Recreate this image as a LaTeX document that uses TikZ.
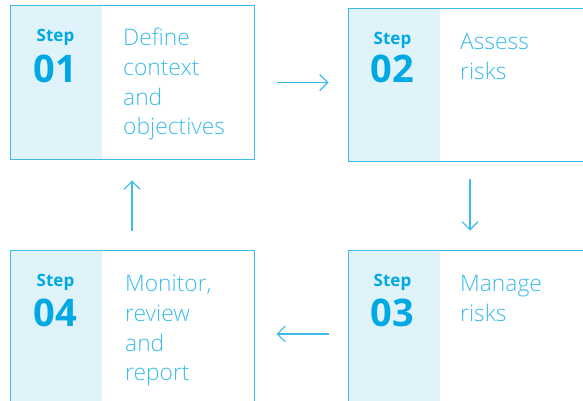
\documentclass[tikz,border=0pt]{standalone}
\usepackage{fontspec}
\setmainfont{Open Sans}
\newfontfamily\thinfont{Open Sans Light}
\usetikzlibrary{positioning,arrows.meta}

\definecolor{stepline}{HTML}{3DBCEA}
\definecolor{steptint}{HTML}{E0F3FA}
\definecolor{stepblue}{HTML}{00A8E4}
\definecolor{steptext}{HTML}{3BBBEA}

\tikzset{
  stepbox/.style={draw=stepline, line width=1pt, minimum width=244pt,
    minimum height=153pt, inner sep=0pt,
    path picture={\fill[steptint] (path picture bounding box.north west)
      rectangle ++(92pt,-153pt);}},
  stepword/.style={text=stepblue, font=\bfseries\fontsize{17}{17}\selectfont,
    anchor=base, inner sep=0pt},
  stepnum/.style={text=stepblue, font=\bfseries\fontsize{38}{38}\selectfont,
    anchor=base, inner sep=0pt},
  stepdesc/.style={text=steptext, font=\thinfont\fontsize{22.8}{29.8}\selectfont,
    align=left, anchor=base west, inner sep=0pt},
  flow/.style={-{Straight Barb[length=8pt, width=16pt]}, draw=stepline,
    line width=1.1pt}
}

\begin{document}
\begin{tikzpicture}[x=1pt, y=-1pt]

  \useasboundingbox (0,0) rectangle (583,401);
  \clip (0,0) rectangle (583,401);

  % Define the four step boxes
  \node[stepbox] (Define) at (132,82.5) {};
  \node[stepbox, right=93pt of Define, yshift=-2.5pt] (Assess) {};
  \node[stepbox, below=88pt of Assess] (Manage) {};
  \node[stepbox, left=93pt of Manage] (Monitor) {};

  % Step numbers and descriptions (base west sits on the last line)
  \node[stepword] at ([shift={(46,36)}]Define.north west) {Step};
  \node[stepnum] at ([shift={(46,77)}]Define.north west) {01};
  \node[stepdesc] at ([shift={(113.5,129.4)}]Define.north west)
    {Define\\context\\and\\objectives};

  \node[stepword] at ([shift={(45,37)}]Assess.north west) {Step};
  \node[stepnum] at ([shift={(45,75)}]Assess.north west) {02};
  \node[stepdesc] at ([shift={(112.5,71.8)}]Assess.north west) {Assess\\risks};

  \node[stepword] at ([shift={(45,36)}]Manage.north west) {Step};
  \node[stepnum] at ([shift={(45,76)}]Manage.north west) {03};
  \node[stepdesc] at ([shift={(112.5,71.3)}]Manage.north west) {Manage\\risks};

  \node[stepword] at ([shift={(46,36)}]Monitor.north west) {Step};
  \node[stepnum] at ([shift={(46,76)}]Monitor.north west) {04};
  \node[stepdesc] at ([shift={(115.5,130.9)}]Monitor.north west)
    {Monitor,\\review\\and\\report};

  % Connect the steps
  \draw[flow, shorten <=22pt, shorten >=19pt]
    (Define.east) -- (Assess.west |- Define.east);
  \draw[flow, shorten <=17pt, shorten >=19.5pt] (Assess.south) -- (Manage.north);
  \draw[flow, shorten <=19pt, shorten >=22pt]
    ([yshift=-7pt]Manage.west) -- ([yshift=-7pt]Monitor.east);
  \draw[flow, shorten <=19.5pt, shorten >=21pt] (Monitor.north) -- (Define.south);

\end{tikzpicture}
\end{document}
